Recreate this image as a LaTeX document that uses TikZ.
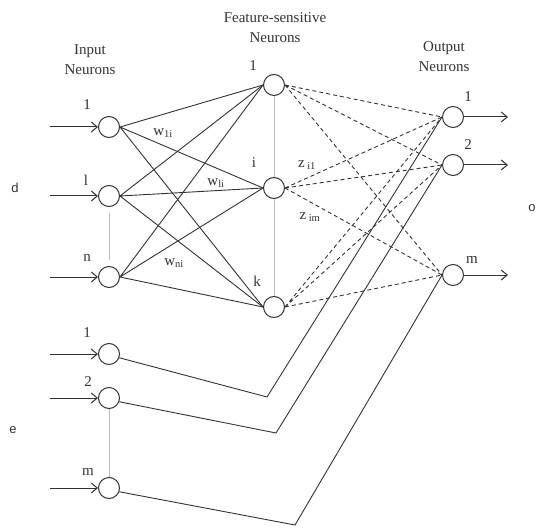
\documentclass[tikz,border=0pt]{standalone}
\usepackage{fontspec}
\setmainfont{Liberation Serif}
\setsansfont{Liberation Sans}
\usetikzlibrary{arrows.meta}
\definecolor{ink}{HTML}{333333}
\definecolor{guide}{HTML}{BBBBBB}
\tikzset{
  nrn style/.style={circle, draw=ink, line width=1pt, minimum size=21pt, inner sep=0pt},
  arr style/.style={-{Straight Barb[length=6pt,width=10pt]}, draw=ink, line width=1pt},
  wire style/.style={draw=ink, line width=0.9pt},
  dash style/.style={draw=ink, line width=0.9pt, dash pattern=on 4pt off 3pt},
  guide style/.style={draw=guide, line width=0.8pt},
  tag style/.style={font=\fontsize{15}{17}\selectfont, text=ink, inner sep=1pt},
  head style/.style={font=\fontsize{15}{20}\selectfont, text=ink, align=center, inner sep=1pt},
  side style/.style={font=\sffamily\fontsize{13}{15}\selectfont, text=ink, inner sep=1pt}
}
\begin{document}
\begin{tikzpicture}[x=1pt, y=-1pt]
\useasboundingbox (0,0) rectangle (537,529);
% headings
\node[head style] (hdin)  at (90,60)  {Input\\Neurons};
\node[head style] (hdhid) at (275,28) {Feature-sensitive\\Neurons};
\node[head style] (hdout) at (444,57) {Output\\Neurons};
\node[side style] (sd) at (15,188) {d};
\node[side style] (se) at (13,430) {e};
\node[side style] (so) at (532,208) {o};
% input neurons
\node[nrn style] (in1) at (109,127) {};
\node[nrn style] (inl) at (109,196) {};
\node[nrn style] (inn) at (109,277) {};
\node[nrn style] (ie1) at (109,354) {};
\node[nrn style] (ie2) at (109,398) {};
\node[nrn style] (iem) at (109,488) {};
% feature-sensitive neurons
\node[nrn style] (h1) at (274,85)  {};
\node[nrn style] (hi) at (274,188) {};
\node[nrn style] (hk) at (274,307) {};
% output neurons
\node[nrn style] (o1) at (453,117) {};
\node[nrn style] (o2) at (453,165) {};
\node[nrn style] (om) at (453,275) {};
% neuron tags
\node[tag style] (tin1) at (87,105) {1};
\node[tag style] (tinl) at (86,180) {l};
\node[tag style] (tinn) at (87,258) {n};
\node[tag style] (tie1) at (87,333) {1};
\node[tag style] (tie2) at (88,382) {2};
\node[tag style] (tiem) at (88,472) {m};
\node[tag style] (th1) at (253,66)  {1};
\node[tag style] (thi) at (254,163) {i};
\node[tag style] (thk) at (257,281) {k};
\node[tag style] (to1) at (468,97)  {1};
\node[tag style] (to2) at (468,145) {2};
\node[tag style] (tom) at (472,260) {m};
% weights
\node[tag style] (w1i) at (163,133) {w\textsubscript{1i}};
\node[tag style] (wli) at (216,183) {w\textsubscript{li}};
\node[tag style] (wni) at (174,263) {w\textsubscript{ni}};
\node[tag style] (zi1) at (307,165) {z\,\textsubscript{i1}};
\node[tag style] (zim) at (310,217) {z\,\textsubscript{im}};
% free ends of the arrows
\coordinate (s1) at (50,127);
\coordinate (sl) at (50,196);
\coordinate (sn) at (50,277);
\coordinate (se1) at (50,354);
\coordinate (se2) at (50,398);
\coordinate (sem) at (50,488);
\coordinate (t1) at (508,117);
\coordinate (t2) at (508,165);
\coordinate (tm) at (508,275);
% corners of the e wires
\coordinate (c1) at (267,397);
\coordinate (c2) at (276,433);
\coordinate (c3) at (295,525);
% guides
\draw[guide style] ([yshift=-6pt]inl.south) -- ([yshift=6pt]inn.north);
\draw[guide style] (ie2.south) -- (iem.north);
\draw[guide style] (h1.south) -- (hi.north) (hi.south) -- (hk.north);
% arrows in and out
\draw[arr style] (s1)--(in1);
\draw[arr style] (sl)--(inl);
\draw[arr style] (sn)--(inn);
\draw[arr style] (se1)--(ie1);
\draw[arr style] (se2)--(ie2);
\draw[arr style] (sem)--(iem);
\draw[arr style] (o1)--(t1);
\draw[arr style] (o2)--(t2);
\draw[arr style] (om)--(tm);
% input to feature-sensitive
\draw[wire style] (in1.east)--(h1.west) (in1.east)--(hi.west) (in1.east)--(hk.west);
\draw[wire style] (inl.east)--(h1.west) (inl.east)--(hi.west) (inl.east)--(hk.west);
\draw[wire style] (inn.east)--(h1.west) (inn.east)--(hi.west) (inn.east)--(hk.west);
% feature-sensitive to output
\draw[dash style] (h1.east)--(o1.west) (h1.east)--(o2.west) (h1.east)--(om.west);
\draw[dash style] (hi.east)--(o1.west) (hi.east)--(o2.west) (hi.east)--(om.west);
\draw[dash style] (hk.east)--(o1.west) (hk.east)--(o2.west) (hk.east)--(om.west);
% e inputs to output
\draw[wire style] (ie1.-20)--(c1)--(o1.west);
\draw[wire style] (ie2.-20)--(c2)--(o2.west);
\draw[wire style] (iem.-20)--(c3)--(om.west);
\end{tikzpicture}
\end{document}
